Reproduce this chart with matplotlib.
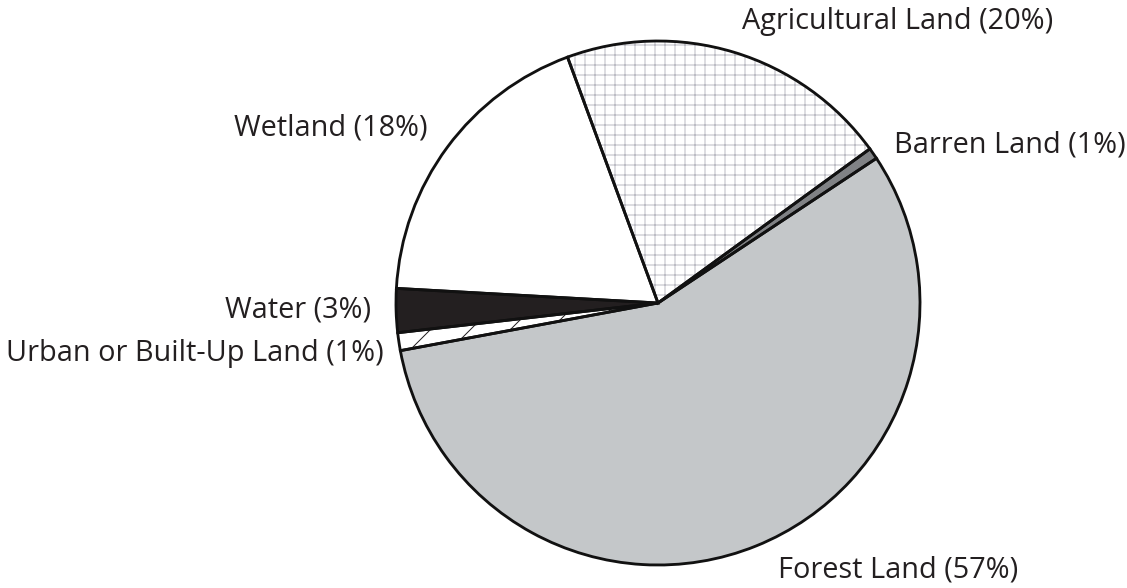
import matplotlib.pyplot as plt

# land use shares (%), clockwise from the top-left boundary
categories = ['Agricultural Land', 'Barren Land', 'Forest Land',
              'Urban or Built-Up Land', 'Water', 'Wetland']
shares = [20.6, 0.7, 56.4, 1.1, 2.7, 18.5]
pct_labels = ['20%', '1%', '57%', '1%', '3%', '18%']

fills = ['white', '#808285', '#c4c7c9', 'white', '#231f20', 'white']
hatches = ['++', None, None, '/', None, None]
hatch_colors = ['#bcbcc4', None, None, '#231f20', None, None]

DPI = 120
fig = plt.figure(figsize=(1127 / DPI, 588 / DPI), dpi=DPI)
plt.rcParams['font.family'] = ['Open Sans', 'DejaVu Sans']

R = 262.0          # pie radius in pixels
cx, cy = 658, 303  # pie centre in pixels (from top-left)
ax = fig.add_axes([0, 0, 1, 1])
ax.axis('off')

start = 110.2
plt.rcParams['hatch.linewidth'] = 0.6
wedges, _ = ax.pie(shares, colors=fills, startangle=start, counterclock=False,
                   wedgeprops=dict(linewidth=0))
for w, h, hc in zip(wedges, hatches, hatch_colors):
    if h:
        w.set_hatch(h)
        w.set_edgecolor(hc)

# black outlines on top
ax.pie(shares, colors=['none'] * len(shares), startangle=start, counterclock=False,
       wedgeprops=dict(linewidth=1.7, edgecolor='#111111', fill=False))
ax.set_xlim(-cx / R, (1127 - cx) / R)
ax.set_ylim(-(588 - cy) / R, cy / R)
ax.set_aspect('equal')


def px(x, y):
    return (x - cx) / R, (cy - y) / R


label_pos = {
    'Agricultural Land': (px(898, 21), 'center'),
    'Barren Land': (px(894, 145), 'left'),
    'Forest Land': (px(778, 570), 'left'),
    'Urban or Built-Up Land': (px(384, 354), 'right'),
    'Water': (px(371, 310), 'right'),
    'Wetland': (px(428, 128), 'right'),
}
for name, pct in zip(categories, pct_labels):
    (x, y), ha = label_pos[name]
    ax.text(x, y, f'{name} ({pct})', ha=ha, va='center', fontsize=17.3,
            color='#231f20')

fig.savefig('out.png', dpi=DPI)
